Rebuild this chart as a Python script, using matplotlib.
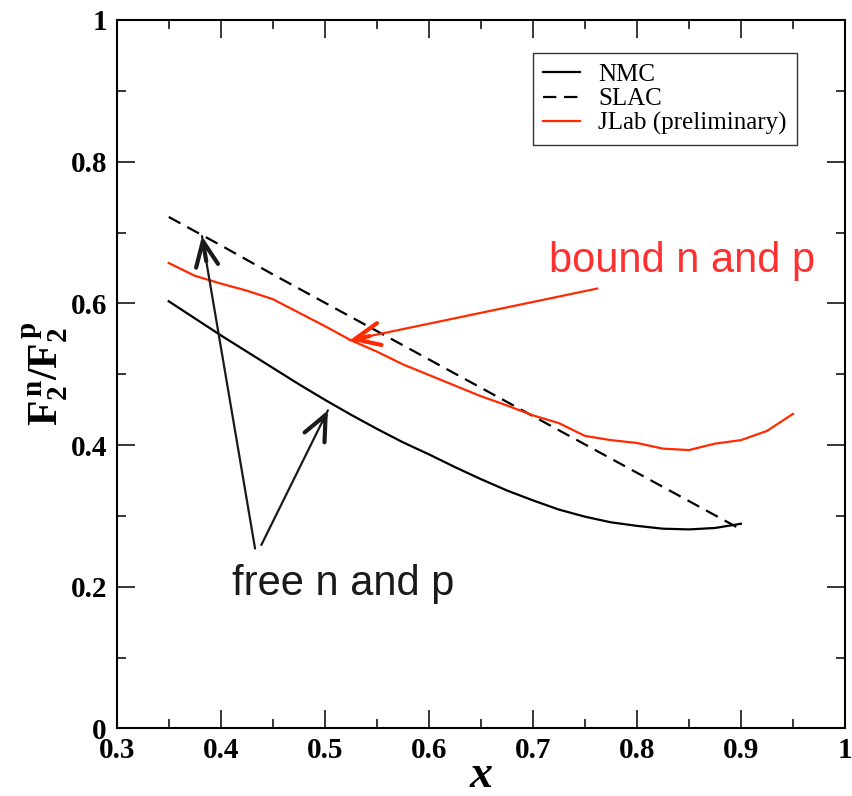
import numpy as np
import matplotlib
matplotlib.use("Agg")
import matplotlib.pyplot as plt
from matplotlib.ticker import MultipleLocator, FuncFormatter

# fonts: times-like serif for axes, arial-like sans for the notes
plt.rcParams['font.family'] = 'Liberation Serif'
plt.rcParams['mathtext.fontset'] = 'custom'
plt.rcParams['mathtext.rm'] = 'Liberation Serif'
plt.rcParams['mathtext.bf'] = 'Liberation Serif:bold'
plt.rcParams['mathtext.it'] = 'Liberation Serif:italic'

# NMC fit (solid black)
nmc_x = [0.35, 0.375, 0.40, 0.425, 0.45, 0.475, 0.50, 0.525, 0.55, 0.575, 0.60, 0.625,
         0.65, 0.675, 0.70, 0.725, 0.75, 0.775, 0.80, 0.825, 0.85, 0.875, 0.90]
nmc_y = [0.603, 0.579, 0.555, 0.532, 0.509, 0.486, 0.464, 0.443, 0.423, 0.404, 0.387, 0.369,
         0.352, 0.336, 0.322, 0.309, 0.299, 0.291, 0.286, 0.282, 0.281, 0.283, 0.289]

# SLAC fit (dashed black)
slac_x = [0.35, 0.40, 0.45, 0.50, 0.55, 0.60, 0.65, 0.70, 0.75, 0.80, 0.85, 0.90]
slac_y = [0.722, 0.682, 0.641, 0.601, 0.561, 0.521, 0.481, 0.441, 0.401, 0.361, 0.321, 0.281]

# JLab preliminary (red)
jlab_x = [0.35, 0.375, 0.40, 0.425, 0.45, 0.475, 0.50, 0.525, 0.55, 0.575, 0.60, 0.625,
          0.65, 0.675, 0.70, 0.725, 0.75, 0.775, 0.80, 0.825, 0.85, 0.875, 0.90, 0.925, 0.95]
jlab_y = [0.657, 0.639, 0.628, 0.618, 0.606, 0.587, 0.568, 0.548, 0.532, 0.514, 0.499, 0.484,
          0.469, 0.456, 0.442, 0.431, 0.413, 0.407, 0.403, 0.395, 0.393, 0.402, 0.407, 0.420, 0.444]

red = '#ff2a00'

fig = plt.figure(figsize=(8.53, 7.96), dpi=100)
ax = fig.add_axes([0.1368, 0.0848, 0.8538, 0.8901])

ax.plot(nmc_x, nmc_y, color='black', lw=1.6, label='NMC')
ax.plot(slac_x, slac_y, color='black', lw=1.6, dashes=(6, 3.5), label='SLAC')
ax.plot(jlab_x, jlab_y, color=red, lw=1.6, label='JLab (preliminary)')


def arrow(head, tail, color):
    # thin shaft plus a bolder open head, like the hand drawn ones
    ax.annotate('', xy=head, xytext=tail,
                arrowprops=dict(arrowstyle='-', lw=1.6, color=color, shrinkA=0, shrinkB=0))
    hx, hy = head
    tx, ty = tail
    ax.annotate('', xy=head, xytext=(hx + 0.08 * (tx - hx), hy + 0.08 * (ty - hy)),
                arrowprops=dict(arrowstyle='->,head_length=0.45,head_width=0.2', lw=3,
                                color=color, mutation_scale=40, shrinkA=0, shrinkB=0))


arrow((0.382, 0.695), (0.433, 0.254), '#1a1a1a')
arrow((0.503, 0.449), (0.439, 0.259), '#1a1a1a')
arrow((0.524, 0.548), (0.762, 0.621), red)

ax.text(0.518, 0.188, 'free n and p', family='Liberation Sans', fontsize=30,
        color='#1a1a1a', ha='center', va='baseline')
ax.text(0.843, 0.645, 'bound n and p', family='Liberation Sans', fontsize=30,
        color='#ff3030', ha='center', va='baseline')

# axes styling
ax.set_xlim(0.3, 1.0)
ax.set_ylim(0.0, 1.0)
ax.xaxis.set_major_locator(MultipleLocator(0.1))
ax.xaxis.set_minor_locator(MultipleLocator(0.05))
ax.yaxis.set_major_locator(MultipleLocator(0.2))
ax.yaxis.set_minor_locator(MultipleLocator(0.1))
fmt = FuncFormatter(lambda v, p: ('%.1f' % v).rstrip('0').rstrip('.') if v != 0 else '0')
ax.xaxis.set_major_formatter(fmt)
ax.yaxis.set_major_formatter(fmt)
ax.tick_params(which='both', direction='in', top=True, right=True, width=1.1)
ax.tick_params(which='major', length=13)
ax.tick_params(which='minor', length=6.5)
ax.tick_params(axis='x', which='major', pad=6, labelsize=21)
ax.tick_params(axis='y', which='major', pad=7, labelsize=21)
for lab in ax.get_xticklabels() + ax.get_yticklabels():
    lab.set_fontweight('bold')
for s in ax.spines.values():
    s.set_linewidth(1.5)

ax.set_xlabel('x', fontsize=33, fontweight='bold', style='italic', labelpad=-6)
ax.set_ylabel(r'$\mathbf{F_2^{\,n}/F_2^{\,p}}$', fontsize=30, labelpad=0)

leg = ax.legend(loc='upper right', bbox_to_anchor=(0.934, 0.953), borderaxespad=0,
                fontsize=18, frameon=True, fancybox=False, handlelength=1.45,
                handletextpad=0.75, labelspacing=0.08, borderpad=0.4)
leg.get_frame().set_edgecolor('black')
leg.get_frame().set_linewidth(1.0)

plt.savefig('out.png', dpi=100)
